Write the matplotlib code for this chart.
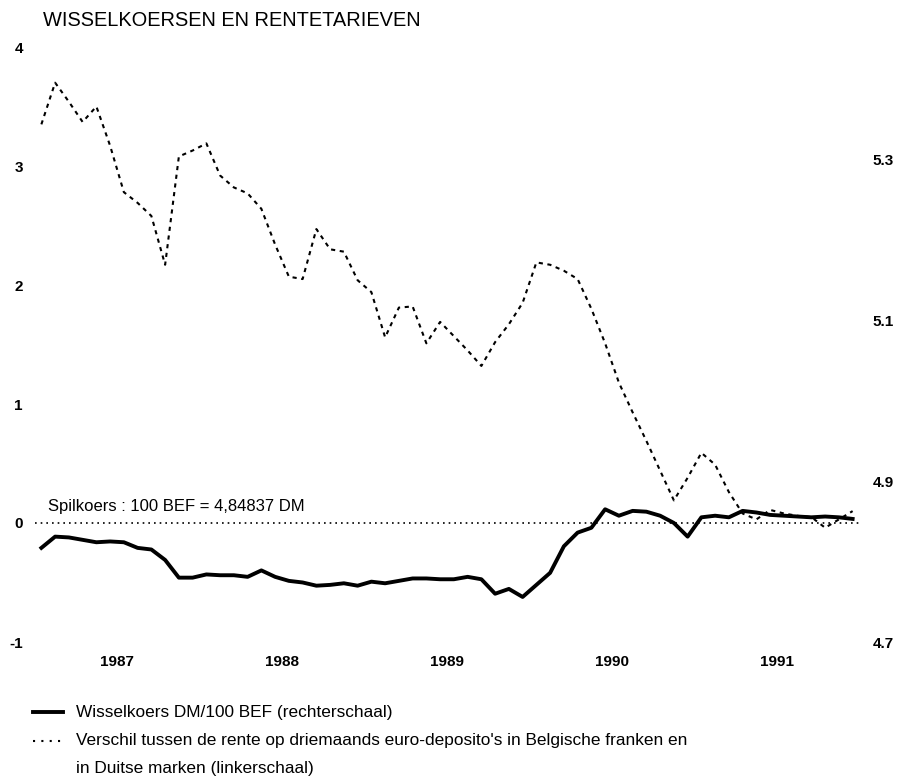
import numpy as np
import matplotlib
matplotlib.use('Agg')
import matplotlib.pyplot as plt
from matplotlib.lines import Line2D

plt.rcParams['font.family'] = ['Liberation Sans', 'DejaVu Sans']

# maandgegevens jan 1987 - dec 1991
# renteverschil BEF - DM, drie maanden euro-deposito's (linkerschaal)
spread = [3.35, 3.70, 3.54, 3.37, 3.50, 3.17, 2.78, 2.69, 2.58, 2.17,
          3.08, 3.13, 3.19, 2.92, 2.82, 2.77, 2.64, 2.34, 2.07, 2.05,
          2.47, 2.30, 2.28, 2.04, 1.94, 1.56, 1.81, 1.82, 1.51, 1.69,
          1.57, 1.45, 1.32, 1.52, 1.67, 1.85, 2.19, 2.17, 2.12, 2.05,
          1.80, 1.51, 1.18, 0.93, 0.69, 0.44, 0.19, 0.38, 0.59, 0.49,
          0.26, 0.08, 0.03, 0.11, 0.08, 0.06, 0.05, -0.04, 0.03, 0.10]

# wisselkoers DM/100 BEF (rechterschaal)
rate = [4.817, 4.831, 4.830, 4.827, 4.824, 4.825, 4.824, 4.817, 4.815, 4.802,
        4.780, 4.780, 4.784, 4.783, 4.783, 4.781, 4.789, 4.781, 4.776, 4.774,
        4.770, 4.771, 4.773, 4.770, 4.775, 4.773, 4.776, 4.779, 4.779, 4.778,
        4.778, 4.781, 4.778, 4.760, 4.766, 4.756, 4.771, 4.786, 4.819, 4.836,
        4.842, 4.865, 4.857, 4.863, 4.862, 4.857, 4.848, 4.831, 4.855, 4.857,
        4.855, 4.863, 4.861, 4.858, 4.857, 4.856, 4.855, 4.856, 4.855, 4.853]

years = [1987, 1988, 1989, 1990, 1991]
left_ticks = [-1, 0, 1, 2, 3, 4]
right_ticks = [4.7, 4.9, 5.1, 5.3]
spil = 4.84837          # spilkoers 100 BEF in DM
scale = 0.14783         # 1 eenheid links = zoveel DM rechts

W, H = 898, 778
fig = plt.figure(figsize=(W / 100, H / 100), dpi=100)
ax = fig.add_axes([34.5 / W, 1 - 642 / H, 825 / W, 595 / H])
ax2 = ax.twinx()

t = 1987 + (np.arange(len(spread)) + 0.5) / 12

ax.plot(t, spread, color='black', lw=1.5, linestyle=(0, (2, 2.2)))
ax.axhline(0, xmin=0, xmax=(862 - 34.5) / 825, color='black', lw=1.2,
           linestyle=(0, (1, 2.4)), clip_on=False)
ax2.plot(t, rate, color='black', lw=2.8, solid_joinstyle='round')

ax.set_xlim(1987, 1992)
ax.set_ylim(-1, 4)
ax2.set_ylim(spil - scale, spil + 4 * scale)

for a in (ax, ax2):
    for s in a.spines.values():
        s.set_visible(False)

tickfont = dict(fontsize=11, fontweight='bold')
ax.set_xticks([y + 0.5 for y in years])
ax.set_xticklabels([str(y) for y in years], **tickfont)
ax.set_yticks(left_ticks)
ax.set_yticklabels([str(v) for v in left_ticks], **tickfont)
ax2.set_yticks(right_ticks)
ax2.set_yticklabels([f'{v:.1f}' for v in right_ticks], **tickfont)
ax.tick_params(axis='x', length=0, pad=9.5)
ax.tick_params(axis='y', length=0, pad=8.3)
ax2.tick_params(axis='y', length=0, pad=9.7)

fig.text(43 / W, 1 - 20 / H, 'WISSELKOERSEN EN RENTETARIEVEN', fontsize=14.4,
         va='center', ha='left')
fig.text(48 / W, 1 - 507 / H, 'Spilkoers : 100 BEF = 4,84837 DM', fontsize=12,
         va='center', ha='left')

# legende
fig.add_artist(Line2D([33 / W, 63 / W], [1 - 712 / H] * 2, color='black', lw=2.8,
                      transform=fig.transFigure))
fig.add_artist(Line2D([33 / W, 63 / W], [1 - 741 / H] * 2, color='black', lw=1.5,
                      linestyle=(0, (1, 3)), transform=fig.transFigure))
fig.text(76 / W, 1 - 712 / H, 'Wisselkoers DM/100 BEF (rechterschaal)', fontsize=12.4,
         va='center', ha='left')
fig.text(76 / W, 1 - 741 / H,
         "Verschil tussen de rente op driemaands euro-deposito's in Belgische franken en",
         fontsize=12.4, va='center', ha='left')
fig.text(76 / W, 1 - 769 / H, 'in Duitse marken (linkerschaal)', fontsize=12.4,
         va='center', ha='left')

fig.savefig('out.png', dpi=100)
